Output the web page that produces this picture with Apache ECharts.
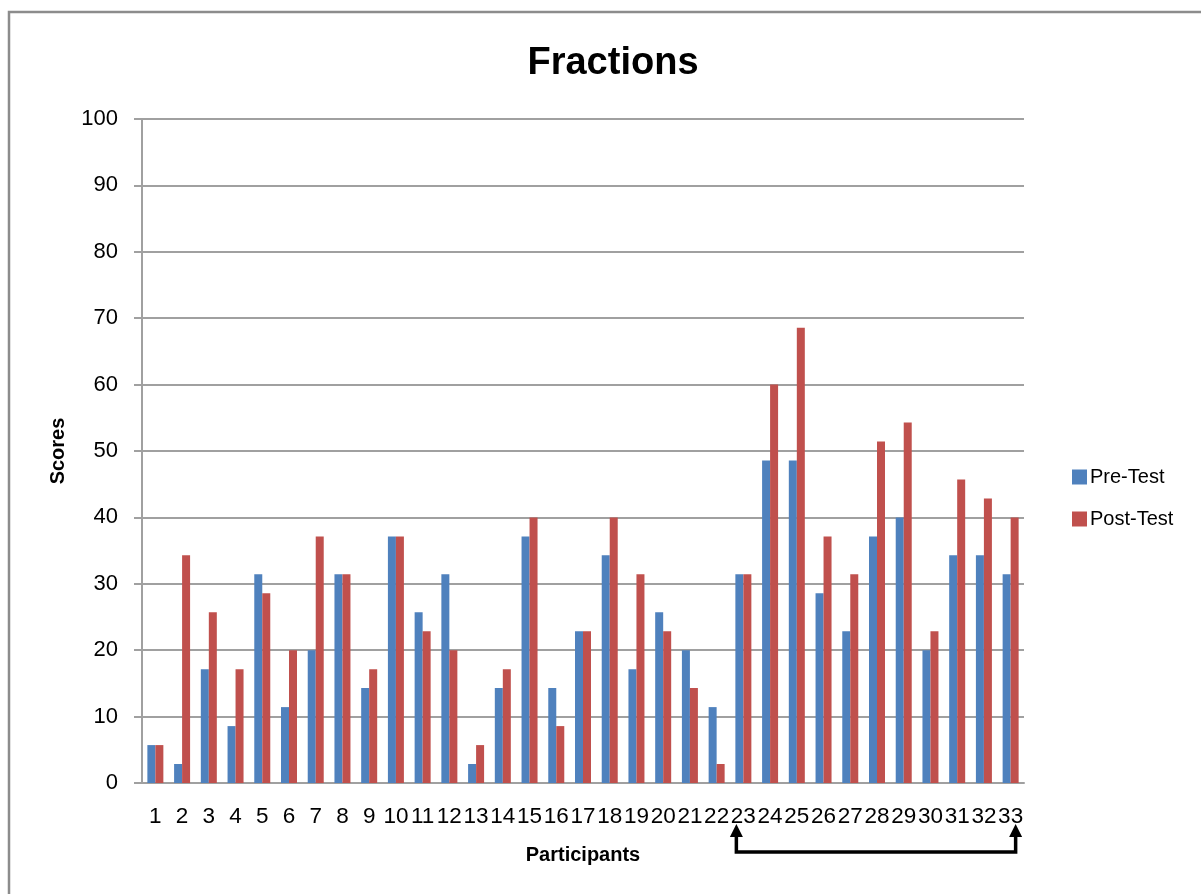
<!DOCTYPE html>
<html>
<head>
<meta charset="utf-8">
<title>Fractions</title>
<script src="https://cdn.jsdelivr.net/npm/echarts@6/dist/echarts.min.js"></script>
<style>
  html, body { margin: 0; padding: 0; background: #fff; }
  #chart { width: 1201px; height: 894px; }
</style>
</head>
<body>
<div id="chart"></div>
<script>
// Participants 1..33
const participants = ['1','2','3','4','5','6','7','8','9','10','11','12','13','14','15','16','17','18','19','20','21','22','23','24','25','26','27','28','29','30','31','32','33'];

// Scores (% correct)
const preTest = [5.71, 2.86, 17.14, 8.57, 31.43, 11.43, 20, 31.43, 14.29, 37.14, 25.71, 31.43, 2.86, 14.29, 37.14, 14.29, 22.86, 34.29, 17.14, 25.71, 20, 11.43, 31.43, 48.57, 48.57, 28.57, 22.86, 37.14, 40, 20, 34.29, 34.29, 31.43];
const postTest = [5.71, 34.29, 25.71, 17.14, 28.57, 20, 37.14, 31.43, 17.14, 37.14, 22.86, 20, 5.71, 17.14, 40, 8.57, 22.86, 40, 31.43, 22.86, 14.29, 2.86, 31.43, 60, 68.57, 37.14, 31.43, 51.43, 54.29, 22.86, 45.71, 42.86, 40];

const yTicks = [0, 10, 20, 30, 40, 50, 60, 70, 80, 90, 100];

// Range of participants bracketed below the axis
const bracketFrom = '23';
const bracketTo = '33';

const FONT = '"Liberation Sans", Arial, sans-serif';

const chart = echarts.init(document.getElementById('chart'), null, { renderer: 'canvas' });

const option = {
  backgroundColor: '#ffffff',
  animation: false,
  title: {
    text: 'Fractions',
    left: 608,
    top: 40,
    textAlign: 'center',
    textStyle: { fontFamily: FONT, fontSize: 38, fontWeight: 'bold', color: '#000' }
  },
  legend: {
    orient: 'vertical',
    left: 1067,
    top: 462,
    itemWidth: 15,
    itemHeight: 15,
    itemGap: 22,
    icon: 'rect',
    textStyle: { fontFamily: FONT, fontSize: 20, color: '#000', padding: [0, 0, 0, -2] },
    data: ['Pre-Test', 'Post-Test']
  },
  grid: { left: 142, right: 177, top: 119, bottom: 111, containLabel: false },
  xAxis: {
    type: 'category',
    data: participants,
    name: 'Participants',
    nameLocation: 'middle',
    nameGap: 62,
    nameTextStyle: { fontFamily: FONT, fontSize: 20, fontWeight: 'bold', color: '#000' },
    axisLine: { show: true, lineStyle: { color: '#a0a0a0', width: 2 } },
    axisTick: { show: false },
    axisLabel: { interval: 0, margin: 22, fontFamily: FONT, fontSize: 22.5, color: '#000' }
  },
  yAxis: {
    type: 'value',
    min: yTicks[0],
    max: yTicks[yTicks.length - 1],
    interval: 10,
    name: 'Scores',
    nameLocation: 'middle',
    nameGap: 74,
    nameTextStyle: { fontFamily: FONT, fontSize: 20, fontWeight: 'bold', color: '#000' },
    axisLine: { show: true, lineStyle: { color: '#a0a0a0', width: 2 } },
    axisTick: { show: true, inside: false, length: 8, lineStyle: { color: '#a0a0a0', width: 2 } },
    axisLabel: { margin: 24, fontFamily: FONT, fontSize: 22, color: '#000' },
    splitLine: { show: true, lineStyle: { color: '#a0a0a0', width: 2 } }
  },
  series: [
    {
      name: 'Pre-Test',
      type: 'bar',
      data: preTest,
      barWidth: 8,
      barGap: '0%',
      itemStyle: { color: '#4F81BD' }
    },
    {
      name: 'Post-Test',
      type: 'bar',
      data: postTest,
      barWidth: 8,
      barGap: '0%',
      itemStyle: { color: '#C0504D' }
    }
  ]
};

chart.setOption(option);

// Outer frame and the bracket with arrows under the chosen participants
const x1 = chart.convertToPixel({ xAxisIndex: 0 }, bracketFrom) - 7;
const x2 = chart.convertToPixel({ xAxisIndex: 0 }, bracketTo) + 5;
const yBase = chart.convertToPixel({ yAxisIndex: 0 }, 0);
const tipY = yBase + 41;
const headY = tipY + 13;
const lineY = yBase + 69;

chart.setOption({
  graphic: [
    {
      type: 'rect',
      shape: { x: 9, y: 12, width: 1400, height: 1000 },
      style: { fill: null, stroke: '#8c8c8c', lineWidth: 2.5 },
      silent: true
    },
    {
      type: 'polyline',
      shape: { points: [[x1, headY], [x1, lineY], [x2, lineY], [x2, headY]] },
      style: { fill: null, stroke: '#000', lineWidth: 3.5 },
      silent: true
    },
    {
      type: 'polygon',
      shape: { points: [[x1, tipY], [x1 - 6.5, headY], [x1 + 6.5, headY]] },
      style: { fill: '#000' },
      silent: true
    },
    {
      type: 'polygon',
      shape: { points: [[x2, tipY], [x2 - 6.5, headY], [x2 + 6.5, headY]] },
      style: { fill: '#000' },
      silent: true
    }
  ]
});
</script>
</body>
</html>
